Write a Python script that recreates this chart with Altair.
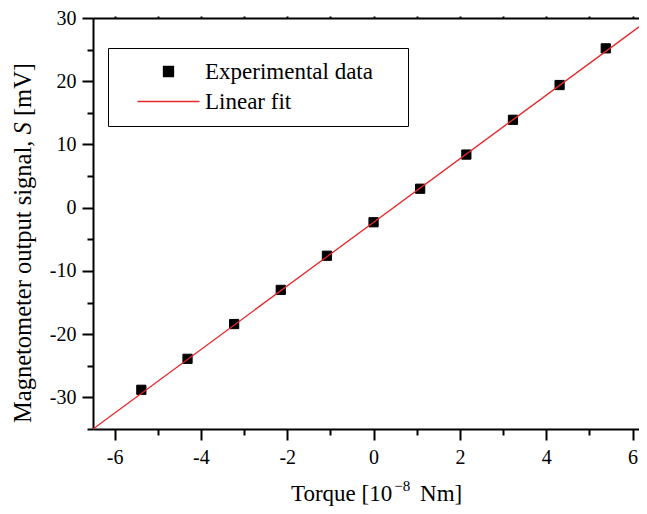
import altair as alt
import pandas as pd

# ---- data ----
torque = [-5.38, -4.31, -3.23, -2.15, -1.08, 0.0, 1.08, 2.15, 3.23, 4.31, 5.38]
signal = [-28.8, -23.9, -18.4, -13.0, -7.6, -2.3, 3.0, 8.4, 13.9, 19.4, 25.2]
fit_torque = [-6.5, 6.15]
fit_signal = [-35.0, 28.6]
series = ["Experimental data", "Linear fit"]
x_ticks = list(range(-6, 7))
y_ticks = list(range(-35, 31, 5))

pts = pd.DataFrame({"torque": torque, "signal": signal, "series": series[0]})
fit = pd.DataFrame({"torque": fit_torque, "signal": fit_signal, "series": series[1]})
one = pd.DataFrame({"k": [0]})

FONT = "Liberation Serif"
RED = "#e8262b"
W, H = 546, 411
PADTXT = "\u00a0" * 4 + "\u200b"

xscale = alt.Scale(domain=[-6.5, 6.15], nice=False, zero=False)
yscale = alt.Scale(domain=[-35, 30], nice=False, zero=False)

bottom_axis = alt.Axis(
    orient="bottom", values=x_ticks, title="", grid=False,
    labelExpr="datum.value % 2 === 0 ? toString(datum.value) : ''",
    tickSize={"condition": {"test": "datum.value % 2 === 0", "value": 11}, "value": 6},
    tickWidth=2, tickColor="black", domainWidth=2, domainColor="black",
    labelFont=FONT, labelFontSize=20, labelColor="black", labelPadding=7,
    labelFlush=False, labelOverlap=False,
)
top_axis = alt.Axis(
    orient="top", values=x_ticks, title="", grid=False, labels=False,
    tickSize=2, tickWidth=2, tickColor="black", domainWidth=2, domainColor="black",
)
left_axis = alt.Axis(
    orient="left", values=y_ticks, title="", grid=False,
    labelExpr="datum.value % 10 === 0 ? toString(datum.value) : ''",
    tickSize={"condition": {"test": "datum.value % 10 === 0", "value": 11}, "value": 6},
    tickWidth=2, tickColor="black", domainWidth=2, domainColor="black",
    labelFont=FONT, labelFontSize=20, labelColor="black", labelPadding=6,
    labelFlush=False, labelOverlap=False,
)

legend = alt.Legend(
    title=None, orient="none", legendX=15, legendY=30, direction="vertical",
    padding=12, rowPadding=6, symbolOffset=37, labelOffset=25, labelLimit=400,
    labelFont=FONT, labelFontSize=23, labelColor="black",
    labelExpr="datum.label + '" + PADTXT + "'",
    strokeColor="black", fillColor="white",
    symbolSize=100, symbolStrokeWidth=1.3,
)

fill_scale = alt.Scale(domain=series, range=["black", "transparent"])
stroke_scale = alt.Scale(domain=series, range=["black", RED])
shape_scale = alt.Scale(domain=series, range=["square", "M-6.2,0L6.2,0"])

points = alt.Chart(pts).mark_point(filled=True, size=85, strokeWidth=1, opacity=1).encode(
    x=alt.X("torque:Q", scale=xscale, axis=bottom_axis),
    y=alt.Y("signal:Q", scale=yscale, axis=left_axis),
    fill=alt.Fill("series:N", scale=fill_scale, legend=legend),
    stroke=alt.Stroke("series:N", scale=stroke_scale, legend=legend),
    shape=alt.Shape("series:N", scale=shape_scale, legend=legend),
)

line = alt.Chart(fit).mark_line(strokeWidth=1.3, clip=True).encode(
    x=alt.X("torque:Q", scale=xscale, axis=top_axis),
    y=alt.Y("signal:Q", scale=yscale, axis=left_axis),
    stroke=alt.Stroke("series:N", scale=stroke_scale, legend=legend),
)

# ---- axis titles (mixed italic / superscript) ----
ysz = 24.5
def yt(txt, ypos, italic=False):
    return alt.Chart(one).mark_text(
        text=txt, angle=270, align="left", baseline="alphabetic",
        font=FONT, fontSize=ysz, fontStyle="italic" if italic else "normal", color="black",
    ).encode(x=alt.value(-62), y=alt.value(ypos))

y0 = 405
w1 = 11.527 * ysz
sp = 0.25 * ysz
yS = y0 - w1 - sp
yM = yS - 0.5 * ysz - sp
ytitle = yt("Magnetometer output signal,", y0) + yt("S", yS, True) + yt("[mV]", yM)

xsz = 23
def xt(txt, xpos, ypos, size):
    return alt.Chart(one).mark_text(
        text=txt, align="left", baseline="alphabetic",
        font=FONT, fontSize=size, color="black",
    ).encode(x=alt.value(xpos), y=alt.value(ypos))

x0 = 198
x1 = x0 + 4.471 * xsz + 0.5
x2 = x1 + 1.064 * 15 + 0.25 * xsz + 4
xtitle = xt("Torque [10", x0, 483, xsz) + xt("\u22128", x1, 473, 15) + xt("Nm]", x2, 483, xsz)

chart = alt.layer(points, line, ytitle, xtitle).resolve_axis(
    x="independent"
).properties(
    width=W, height=H,
    autosize=alt.AutoSizeParams(type="none"),
    padding={"left": 85, "top": 10, "right": 0, "bottom": 77},
).configure_view(stroke="transparent")

chart.save("out.html", embed_options={"renderer": "svg", "actions": False})
